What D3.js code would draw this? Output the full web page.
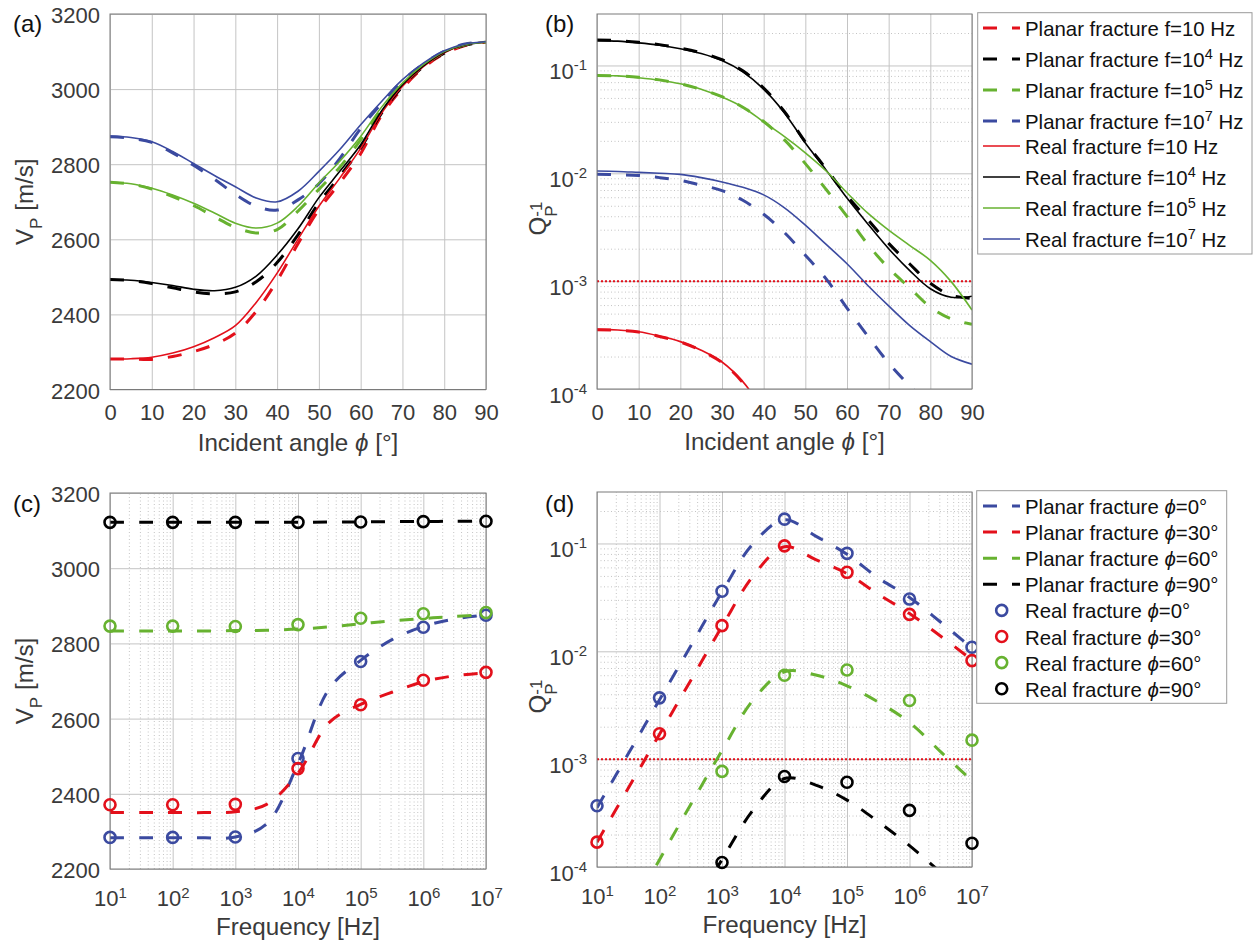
<!DOCTYPE html>
<html>
<head>
<meta charset="utf-8">
<title>P-wave velocity and attenuation, planar vs real fracture</title>
<script src="https://cdn.jsdelivr.net/npm/d3@7"></script>
<style>
  body { margin: 0; background: #fff; }
  svg text { font-family: "Liberation Sans", Arial, Helvetica, sans-serif; }
</style>
</head>
<body>
<script>
// values

const angleDeg = [0, 5, 10, 15, 20, 25, 30, 35, 40, 45, 50, 55, 60, 65, 70, 75, 80, 85, 90];

// (a) V_P [m/s] vs incident angle
const vpPlanarF10  = [2281, 2281, 2280, 2288, 2301, 2320, 2350, 2408, 2490, 2588, 2679, 2750, 2828, 2930, 3002, 3057, 3094, 3116, 3125];
const vpRealF10    = [2281, 2282, 2286, 2297, 2314, 2338, 2370, 2432, 2510, 2600, 2688, 2763, 2842, 2936, 3008, 3060, 3097, 3118, 3125];
const vpPlanarF1e4 = [2493, 2490, 2482, 2471, 2460, 2455, 2460, 2487, 2538, 2612, 2697, 2768, 2843, 2936, 3007, 3060, 3096, 3117, 3125];
const vpRealF1e4   = [2493, 2491, 2485, 2477, 2467, 2463, 2472, 2502, 2558, 2628, 2711, 2781, 2852, 2942, 3012, 3062, 3098, 3118, 3125];
const vpPlanarF1e5 = [2752, 2747, 2734, 2714, 2690, 2660, 2632, 2617, 2626, 2675, 2733, 2792, 2865, 2947, 3011, 3062, 3098, 3118, 3125];
const vpRealF1e5   = [2752, 2748, 2736, 2718, 2696, 2670, 2643, 2630, 2643, 2688, 2750, 2808, 2874, 2952, 3016, 3065, 3100, 3119, 3125];
const vpPlanarF1e7 = [2873, 2869, 2858, 2830, 2797, 2760, 2720, 2688, 2678, 2705, 2748, 2815, 2895, 2962, 3022, 3067, 3101, 3120, 3126];
const vpRealF1e7   = [2875, 2871, 2860, 2834, 2802, 2770, 2740, 2710, 2700, 2728, 2781, 2839, 2905, 2967, 3025, 3069, 3102, 3120, 3126];

// (b) Q_P^-1 vs incident angle
const qPlanarF10  = [3.55e-4, 3.51e-4, 3.37e-4, 3.07e-4, 2.73e-4, 2.27e-4, 1.76e-4, 1.15e-4, 6.2e-5, null, null, null, null, null, null, null, null, null, null];
const qRealF10    = [3.57e-4, 3.53e-4, 3.39e-4, 3.09e-4, 2.75e-4, 2.29e-4, 1.78e-4, 1.17e-4, 6.3e-5, null, null, null, null, null, null, null, null, null, null];
const qPlanarF1e4 = [0.172, 0.170, 0.164, 0.156, 0.145, 0.131, 0.113, 0.0891, 0.0617, 0.0372, 0.0195, 0.0110, 0.00617, 0.00372, 0.00224, 0.00145, 0.000955, 0.000741, 0.000692];
const qRealF1e4   = [0.170, 0.168, 0.162, 0.154, 0.143, 0.129, 0.111, 0.0871, 0.0603, 0.0363, 0.0191, 0.0107, 0.00589, 0.00339, 0.00200, 0.00126, 0.000851, 0.000708, 0.000724];
const qPlanarF1e5 = [0.0807, 0.0800, 0.0776, 0.0735, 0.0676, 0.0600, 0.0513, 0.0410, 0.0302, 0.0204, 0.0123, 0.00708, 0.00398, 0.00219, 0.00132, 0.00087, 0.000575, 0.000447, 0.000398];
const qRealF1e5   = [0.0807, 0.0800, 0.0769, 0.0730, 0.0676, 0.0603, 0.0509, 0.0410, 0.0299, 0.0219, 0.0155, 0.0105, 0.0066, 0.00427, 0.00297, 0.00215, 0.00156, 0.00099, 0.00054];
const qPlanarF1e7 = [0.0098, 0.0097, 0.00955, 0.00912, 0.00861, 0.00776, 0.00692, 0.00562, 0.00417, 0.00282, 0.00174, 0.00105, 0.000562, 0.000309, 0.000174, 0.000107, 0.000068, null, null];
const qRealF1e7   = [0.0105, 0.0104, 0.0102, 0.0100, 0.00977, 0.00912, 0.00832, 0.00741, 0.00631, 0.00479, 0.00331, 0.00219, 0.00145, 0.000912, 0.000589, 0.000389, 0.000275, 0.000200, 0.000170];

// (c), (d) vs frequency: planar lines at half decades, real fracture at decades
const freqLine   = [10, 31.6, 100, 316, 1000, 3162, 10000, 31623, 100000, 316228, 1000000, 3162278, 10000000];
const freqMarker = [10, 100, 1000, 10000, 100000, 1000000, 10000000];

const vpPlanarPhi0  = [2283, 2283, 2283, 2283, 2285, 2320, 2480, 2680, 2755, 2810, 2845, 2865, 2875];
const vpPlanarPhi30 = [2350, 2350, 2350, 2350, 2352, 2372, 2455, 2590, 2638, 2670, 2698, 2714, 2722];
const vpPlanarPhi60 = [2833, 2833, 2833, 2833, 2834, 2835, 2838, 2844, 2852, 2860, 2866, 2872, 2876];
const vpPlanarPhi90 = [3122, 3122, 3122, 3122, 3122, 3122, 3122, 3123, 3123, 3124, 3124, 3125, 3125];

const vpRealPhi0  = [2284, 2284, 2285, 2494, 2752, 2843, 2875];
const vpRealPhi30 = [2371, 2371, 2372, 2467, 2637, 2702, 2723];
const vpRealPhi60 = [2846, 2846, 2845, 2850, 2867, 2879, 2882];
const vpRealPhi90 = [3122, 3122, 3122, 3122, 3123, 3124, 3125];

const qPlanarPhi0  = [3.55e-4, 1.12e-3, 3.55e-3, 1.12e-2, 3.55e-2, 0.100, 0.166, 0.117, 0.0794, 0.0479, 0.0316, 0.0186, 0.0107];
const qPlanarPhi30 = [1.70e-4, 5.37e-4, 1.70e-3, 5.37e-3, 0.0170, 0.0501, 0.0933, 0.0708, 0.0525, 0.0339, 0.0224, 0.0138, 0.00832];
const qPlanarPhi60 = [null, 3.5e-5, 1.17e-4, 3.80e-4, 1.20e-3, 3.55e-3, 6.46e-3, 6.03e-3, 4.79e-3, 3.39e-3, 2.19e-3, 1.17e-3, 6.31e-4];
const qPlanarPhi90 = [null, null, 1.0e-5, 3.8e-5, 1.17e-4, 3.39e-4, 6.61e-4, 5.75e-4, 4.17e-4, 2.63e-4, 1.58e-4, 8.9e-5, 5.0e-5];

const qRealPhi0  = [3.7e-4, 3.7e-3, 0.036, 0.168, 0.081, 0.0305, 0.0109];
const qRealPhi30 = [1.7e-4, 1.72e-3, 0.0173, 0.095, 0.054, 0.022, 0.0082];
const qRealPhi60 = [null, null, 7.7e-4, 6.0e-3, 6.7e-3, 3.5e-3, 1.5e-3];
const qRealPhi90 = [null, null, 1.1e-4, 6.9e-4, 6.1e-4, 3.35e-4, 1.66e-4];

const qThreshold = 1e-3;

// ticks
const angleTicks = [0, 10, 20, 30, 40, 50, 60, 70, 80, 90];
const vpTicks = [2200, 2400, 2600, 2800, 3000, 3200];
const qTicks = [1e-4, 1e-3, 1e-2, 1e-1];
const freqTicks = [1e1, 1e2, 1e3, 1e4, 1e5, 1e6, 1e7];

// ---------------------------------------------------------------

const red = '#e3101b', black = '#000000', green = '#67b230', blue = '#3b4aa0';
const gridColor = '#c4c4c4', minorColor = '#c4c4c4', boxColor = '#7a7a7a', tickColor = '#3a3a3a';
const phi = '\u03D5';
const legendSize = 20.4;

let width = 1258, height = 945;
let svg = d3.select('body').append('svg')
    .attr('width', width)
    .attr('height', height)
    .style('background-color', 'white');

let boxA = {x: 110, y: 14, w: 376, h: 375.5, name: 'a'};
let boxB = {x: 597, y: 14, w: 375, h: 375, name: 'b'};
let boxC = {x: 110, y: 493, w: 376, h: 376, name: 'c'};
let boxD = {x: 597, y: 492, w: 375, h: 375, name: 'd'};

let xA = d3.scaleLinear().domain([0, 90]).range([boxA.x, boxA.x + boxA.w]);
let yA = d3.scaleLinear().domain([2200, 3200]).range([boxA.y + boxA.h, boxA.y]);
let xB = d3.scaleLinear().domain([0, 90]).range([boxB.x, boxB.x + boxB.w]);
let yB = d3.scaleLog().domain([1e-4, 0.3]).range([boxB.y + boxB.h, boxB.y]);
let xC = d3.scaleLog().domain([10, 1e7]).range([boxC.x, boxC.x + boxC.w]);
let yC = d3.scaleLinear().domain([2200, 3200]).range([boxC.y + boxC.h, boxC.y]);
let xD = d3.scaleLog().domain([10, 1e7]).range([boxD.x, boxD.x + boxD.w]);
let yD = d3.scaleLog().domain([1e-4, 0.3]).range([boxD.y + boxD.h, boxD.y]);

let logMinor = (lo, hi) => {
    let out = [];
    for (let e = Math.floor(Math.log10(lo)); e < Math.ceil(Math.log10(hi)); e++) {
        for (let k = 2; k <= 9; k++) {
            let v = k * Math.pow(10, e);
            if (v > lo * 1.0001 && v < hi * 0.9999) out.push(v);
        }
    }
    return out;
};

// "10" with a raised exponent
let powLabels = (sel, raise) => {
    sel.each(function(d) {
        let t = d3.select(this).text(null);
        t.append('tspan').text('10');
        t.append('tspan').attr('dy', -raise).attr('font-size', 15).text(Math.round(Math.log10(d)));
    });
};

// text made of segments: {t, shift (down +), size, italic}
let richText = (t, segs, size) => {
    let cur = 0;
    segs.forEach(s => {
        let shift = s.shift || 0;
        let ts = t.append('tspan').text(s.t).attr('font-size', s.size || size);
        if (shift !== cur) ts.attr('dy', shift - cur);
        if (s.dx) ts.attr('dx', s.dx);
        if (s.italic) ts.attr('font-style', 'italic');
        cur = shift;
    });
};

let frame = (box, x, y, o) => {
    let g = svg.append('g');
    svg.append('clipPath').attr('id', 'clip' + box.name)
        .append('rect')
        .attr('x', box.x).attr('y', box.y).attr('width', box.w).attr('height', box.h);

    // minor grid (dotted)
    if (o.xMinor) {
        g.append('g').attr('transform', `translate(0,${box.y + box.h})`)
            .call(d3.axisBottom(x).tickValues(o.xMinor).tickSize(-box.h).tickFormat(''))
            .call(a => a.select('.domain').remove())
            .selectAll('.tick line').attr('stroke', minorColor).attr('stroke-dasharray', '1,2.5');
    }
    if (o.yMinor) {
        g.append('g').attr('transform', `translate(${box.x},0)`)
            .call(d3.axisLeft(y).tickValues(o.yMinor).tickSize(-box.w).tickFormat(''))
            .call(a => a.select('.domain').remove())
            .selectAll('.tick line').attr('stroke', minorColor).attr('stroke-dasharray', '1,2.5');
    }

    // major grid + tick labels
    let gx = g.append('g').attr('transform', `translate(0,${box.y + box.h})`)
        .call(d3.axisBottom(x).tickValues(o.xTicks).tickSize(-box.h).tickFormat(d3.format('d')))
        .attr('font-size', 22).attr('font-family', null);
    gx.select('.domain').remove();
    gx.selectAll('.tick line').attr('stroke', gridColor);
    let gxText = gx.selectAll('.tick text').attr('fill', tickColor).attr('dy', null);
    if (o.xLog) {
        gxText.attr('y', 36.5);
        powLabels(gxText, 8);
    } else {
        gxText.attr('y', 30.5);
    }

    let gy = g.append('g').attr('transform', `translate(${box.x},0)`)
        .call(d3.axisLeft(y).tickValues(o.yTicks).tickSize(-box.w).tickPadding(10).tickFormat(d3.format('d')))
        .attr('font-size', 22).attr('font-family', null);
    gy.select('.domain').remove();
    gy.selectAll('.tick line').attr('stroke', gridColor);
    let gyText = gy.selectAll('.tick text').attr('fill', tickColor);
    if (o.yLog) {
        gyText.attr('dy', 13);
        powLabels(gyText, 9);
    } else {
        gyText.attr('dy', 8.5);
    }
    return g;
};

let drawBox = box => {
    svg.append('rect')
        .attr('x', box.x).attr('y', box.y).attr('width', box.w).attr('height', box.h)
        .attr('fill', 'none').attr('stroke', boxColor).attr('stroke-width', 1);
};

let drawSeries = (box, x, y, xs, ys, color, dashed) => {
    let pts = xs.map((v, i) => [v, ys[i]]).filter(d => d[1] != null);
    svg.append('path')
        .datum(pts)
        .attr('clip-path', `url(#clip${box.name})`)
        .attr('d', d3.line().x(d => x(d[0])).y(d => y(d[1])).curve(d3.curveCatmullRom))
        .attr('fill', 'none')
        .attr('stroke', color)
        .attr('stroke-width', dashed ? 3 : 1.6)
        .attr('stroke-dasharray', dashed ? '14,15' : null);
};

let drawMarkers = (x, y, xs, ys, color) => {
    let pts = xs.map((v, i) => [v, ys[i]]).filter(d => d[1] != null);
    svg.append('g').selectAll('circle')
        .data(pts)
        .enter()
        .append('circle')
        .attr('cx', d => x(d[0]))
        .attr('cy', d => y(d[1]))
        .attr('r', 5.5)
        .attr('fill', 'none')
        .attr('stroke', color)
        .attr('stroke-width', 2.6);
};

let drawThreshold = (box, x, y) => {
    svg.append('line')
        .attr('x1', box.x).attr('x2', box.x + box.w)
        .attr('y1', y(qThreshold)).attr('y2', y(qThreshold))
        .attr('stroke', red).attr('stroke-width', 2)
        .attr('stroke-dasharray', '2,2');
};

let xLabel = (box, yPos, segs) => {
    let t = svg.append('text')
        .attr('x', box.x + box.w / 2).attr('y', yPos)
        .attr('text-anchor', 'middle').attr('fill', tickColor);
    richText(t, segs, 24.2);
};

let yLabelV = box => {
    let t = svg.append('text')
        .attr('transform', `translate(33,${box.y + box.h / 2}) rotate(-90)`)
        .attr('text-anchor', 'middle').attr('fill', tickColor);
    richText(t, [{t: 'V'}, {t: 'P', size: 17, shift: 8.5}, {t: ' [m/s]'}], 24.2);
};

let yLabelQ = box => {
    let t = svg.append('text')
        .attr('transform', `translate(546,${box.y + box.h / 2 + 34}) rotate(-90)`)
        .attr('text-anchor', 'start').attr('fill', tickColor);
    richText(t, [{t: 'Q'}, {t: 'P', size: 17, shift: 11}, {t: '-1', size: 17, shift: -4, dx: -11.3}], 24.2);
};

let panelTag = (xPos, yPos, s) => {
    svg.append('text').attr('x', xPos).attr('y', yPos)
        .attr('font-size', 24).attr('fill', '#111').text(s);
};

let drawLegend = (rect, rows) => {
    svg.append('rect')
        .attr('x', rect.x).attr('y', rect.y).attr('width', rect.w).attr('height', rect.h)
        .attr('fill', 'white').attr('stroke', '#9a9a9a').attr('stroke-width', 1);
    rows.forEach(r => {
        let ly = r.base - 8;
        if (r.kind === 'circle') {
            svg.append('circle').attr('cx', 1001.7).attr('cy', ly).attr('r', 5.5)
                .attr('fill', 'none').attr('stroke', r.color).attr('stroke-width', 2.6);
        } else {
            svg.append('line')
                .attr('x1', 983).attr('x2', 1020).attr('y1', ly).attr('y2', ly)
                .attr('stroke', r.color)
                .attr('stroke-width', r.kind === 'dash' ? 3 : 1.6)
                .attr('stroke-dasharray', r.kind === 'dash' ? '14,15' : null);
        }
        let t = svg.append('text').attr('x', 1025).attr('y', r.base).attr('fill', '#111');
        richText(t, r.segs, legendSize);
    });
};

// ---- panel (a) ----
frame(boxA, xA, yA, {xTicks: angleTicks, yTicks: vpTicks});
drawSeries(boxA, xA, yA, angleDeg, vpPlanarF10, red, true);
drawSeries(boxA, xA, yA, angleDeg, vpPlanarF1e4, black, true);
drawSeries(boxA, xA, yA, angleDeg, vpPlanarF1e5, green, true);
drawSeries(boxA, xA, yA, angleDeg, vpPlanarF1e7, blue, true);
drawSeries(boxA, xA, yA, angleDeg, vpRealF10, red, false);
drawSeries(boxA, xA, yA, angleDeg, vpRealF1e4, black, false);
drawSeries(boxA, xA, yA, angleDeg, vpRealF1e5, green, false);
drawSeries(boxA, xA, yA, angleDeg, vpRealF1e7, blue, false);
drawBox(boxA);
xLabel(boxA, 451, [{t: 'Incident angle '}, {t: phi, italic: true}, {t: ' [\u00B0]'}]);
yLabelV(boxA);
panelTag(13, 32, '(a)');

// ---- panel (b) ----
frame(boxB, xB, yB, {xTicks: angleTicks, yTicks: qTicks, yLog: true, yMinor: logMinor(1e-4, 0.3)});
drawThreshold(boxB, xB, yB);
drawSeries(boxB, xB, yB, angleDeg, qPlanarF10, red, true);
drawSeries(boxB, xB, yB, angleDeg, qPlanarF1e4, black, true);
drawSeries(boxB, xB, yB, angleDeg, qPlanarF1e5, green, true);
drawSeries(boxB, xB, yB, angleDeg, qPlanarF1e7, blue, true);
drawSeries(boxB, xB, yB, angleDeg, qRealF10, red, false);
drawSeries(boxB, xB, yB, angleDeg, qRealF1e4, black, false);
drawSeries(boxB, xB, yB, angleDeg, qRealF1e5, green, false);
drawSeries(boxB, xB, yB, angleDeg, qRealF1e7, blue, false);
drawBox(boxB);
xLabel(boxB, 450, [{t: 'Incident angle '}, {t: phi, italic: true}, {t: ' [\u00B0]'}]);
yLabelQ(boxB);
panelTag(545, 32, '(b)');

// ---- panel (c) ----
frame(boxC, xC, yC, {xTicks: freqTicks, yTicks: vpTicks, xLog: true, xMinor: logMinor(10, 1e7)});
drawSeries(boxC, xC, yC, freqLine, vpPlanarPhi0, blue, true);
drawSeries(boxC, xC, yC, freqLine, vpPlanarPhi30, red, true);
drawSeries(boxC, xC, yC, freqLine, vpPlanarPhi60, green, true);
drawSeries(boxC, xC, yC, freqLine, vpPlanarPhi90, black, true);
drawBox(boxC);
drawMarkers(xC, yC, freqMarker, vpRealPhi0, blue);
drawMarkers(xC, yC, freqMarker, vpRealPhi30, red);
drawMarkers(xC, yC, freqMarker, vpRealPhi60, green);
drawMarkers(xC, yC, freqMarker, vpRealPhi90, black);
xLabel(boxC, 935, [{t: 'Frequency [Hz]'}]);
yLabelV(boxC);
panelTag(13, 512, '(c)');

// ---- panel (d) ----
frame(boxD, xD, yD, {xTicks: freqTicks, yTicks: qTicks, xLog: true, yLog: true,
    xMinor: logMinor(10, 1e7), yMinor: logMinor(1e-4, 0.3)});
drawThreshold(boxD, xD, yD);
drawSeries(boxD, xD, yD, freqLine, qPlanarPhi0, blue, true);
drawSeries(boxD, xD, yD, freqLine, qPlanarPhi30, red, true);
drawSeries(boxD, xD, yD, freqLine, qPlanarPhi60, green, true);
drawSeries(boxD, xD, yD, freqLine, qPlanarPhi90, black, true);
drawBox(boxD);
drawMarkers(xD, yD, freqMarker, qRealPhi0, blue);
drawMarkers(xD, yD, freqMarker, qRealPhi30, red);
drawMarkers(xD, yD, freqMarker, qRealPhi60, green);
drawMarkers(xD, yD, freqMarker, qRealPhi90, black);
xLabel(boxD, 933, [{t: 'Frequency [Hz]'}]);
yLabelQ(boxD);
panelTag(545, 512, '(d)');

// ---- legends ----
let sup = s => ({t: s, size: 14.5, shift: -8});
let back = s => ({t: s, shift: 0});
let legendRowsB = [
    {kind: 'dash', color: red,   segs: [{t: 'Planar fracture f=10 Hz'}]},
    {kind: 'dash', color: black, segs: [{t: 'Planar fracture f=10'}, sup('4'), back(' Hz')]},
    {kind: 'dash', color: green, segs: [{t: 'Planar fracture f=10'}, sup('5'), back(' Hz')]},
    {kind: 'dash', color: blue,  segs: [{t: 'Planar fracture f=10'}, sup('7'), back(' Hz')]},
    {kind: 'line', color: red,   segs: [{t: 'Real fracture f=10 Hz'}]},
    {kind: 'line', color: black, segs: [{t: 'Real fracture f=10'}, sup('4'), back(' Hz')]},
    {kind: 'line', color: green, segs: [{t: 'Real fracture f=10'}, sup('5'), back(' Hz')]},
    {kind: 'line', color: blue,  segs: [{t: 'Real fracture f=10'}, sup('7'), back(' Hz')]}
];
let base = 36;
legendRowsB.forEach((r, i) => {
    if (i > 0) base += r.segs.length > 1 ? 31 : 25;
    r.base = base;
});
drawLegend({x: 977.7, y: 12.7, w: 274.3, h: 241.3}, legendRowsB);

let phiAngles = ['0', '30', '60', '90'];
let phiColors = [blue, red, green, black];
let legendRowsD = [];
phiAngles.forEach((a, i) => legendRowsD.push({kind: 'dash', color: phiColors[i],
    segs: [{t: 'Planar fracture '}, {t: phi, italic: true}, {t: '=' + a + '\u00B0'}]}));
phiAngles.forEach((a, i) => legendRowsD.push({kind: 'circle', color: phiColors[i],
    segs: [{t: 'Real fracture '}, {t: phi, italic: true}, {t: '=' + a + '\u00B0'}]}));
legendRowsD.forEach((r, i) => r.base = 514 + i * 26.1);
drawLegend({x: 976.7, y: 490.7, w: 250, h: 212.6}, legendRowsD);
</script>
</body>
</html>
